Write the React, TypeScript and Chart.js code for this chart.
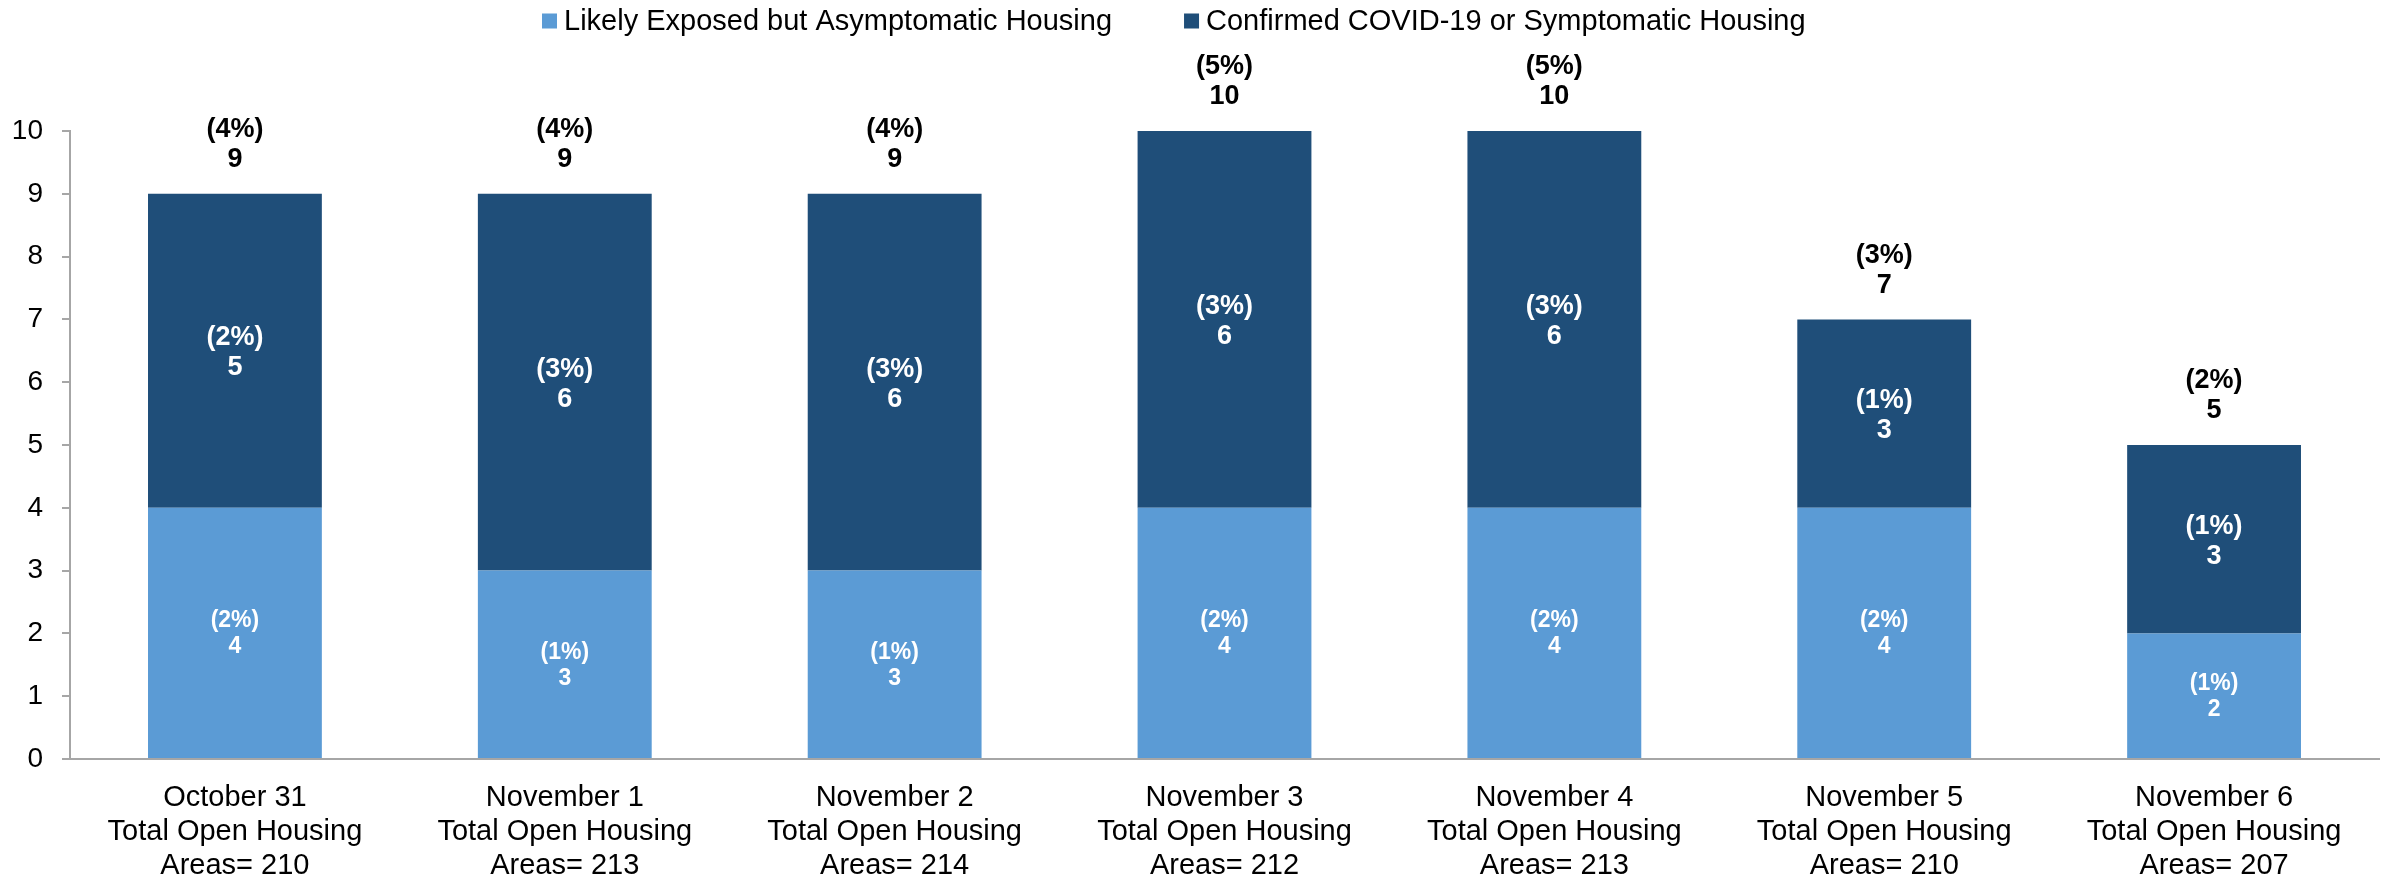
import React, { useEffect, useRef } from "react";
import { Chart, registerables } from "chart.js";

Chart.register(...registerables);

const categories = ["October 31", "November 1", "November 2", "November 3", "November 4", "November 5", "November 6"];
const openAreas = [210, 213, 214, 212, 213, 210, 207];
const exposed = [4, 3, 3, 4, 4, 4, 2];
const exposedPct = ["(2%)", "(1%)", "(1%)", "(2%)", "(2%)", "(2%)", "(1%)"];
const confirmed = [5, 6, 6, 6, 6, 3, 3];
const confirmedPct = ["(2%)", "(3%)", "(3%)", "(3%)", "(3%)", "(1%)", "(1%)"];
const totals = [9, 9, 9, 10, 10, 7, 5];
const totalPct = ["(4%)", "(4%)", "(4%)", "(5%)", "(5%)", "(3%)", "(2%)"];
const yTicks = [0, 1, 2, 3, 4, 5, 6, 7, 8, 9, 10];

const seriesNames = ["Likely Exposed but Asymptomatic Housing", "Confirmed COVID-19 or Symptomatic Housing"];
const LIGHT = "#5B9BD5";
const DARK = "#1F4E79";
const FONT = "'Liberation Sans', Arial, Helvetica, sans-serif";

const labelPlugin = {
  id: "barLabels",
  afterDatasetsDraw(chart: any) {
    const ctx = chart.ctx;
    const yScale = chart.scales.y;
    ctx.save();
    ctx.textAlign = "center";
    ctx.textBaseline = "middle";
    const m0 = chart.getDatasetMeta(0);
    m0.data.forEach((bar: any, i: number) => {
      const p = bar.getProps(["x", "y", "base"], true);
      const mid = (p.y + p.base) / 2;
      ctx.fillStyle = "#ffffff";
      ctx.font = `bold 23px ${FONT}`;
      ctx.fillText(exposedPct[i], p.x, mid - 12);
      ctx.fillText(String(exposed[i]), p.x, mid + 14);
    });
    const m1 = chart.getDatasetMeta(1);
    m1.data.forEach((bar: any, i: number) => {
      const p = bar.getProps(["x", "y", "base"], true);
      const mid = (p.y + p.base) / 2;
      ctx.fillStyle = "#ffffff";
      ctx.font = `bold 27px ${FONT}`;
      ctx.fillText(confirmedPct[i], p.x, mid - 13);
      ctx.fillText(String(confirmed[i]), p.x, mid + 17);
    });
    m0.data.forEach((bar: any, i: number) => {
      const p = bar.getProps(["x"], true);
      const top = yScale.getPixelForValue(totals[i]);
      ctx.fillStyle = "#000000";
      ctx.font = `bold 27px ${FONT}`;
      ctx.fillText(totalPct[i], p.x, top - 64);
      ctx.fillText(String(totals[i]), p.x, top - 34);
    });
    ctx.restore();
  },
};

const legendPlugin = {
  id: "customLegend",
  afterDraw(chart: any) {
    const ctx = chart.ctx;
    ctx.save();
    ctx.font = `29px ${FONT}`;
    ctx.textBaseline = "middle";
    ctx.textAlign = "left";
    const box = 15;
    const gapText = 7;
    const gapItem = 72;
    let x = 542;
    const cy = 21;
    chart.data.datasets.forEach((ds: any) => {
      const w = ctx.measureText(ds.label).width;
      ctx.fillStyle = ds.backgroundColor;
      ctx.fillRect(x, cy - box / 2, box, box);
      x += box + gapText;
      ctx.fillStyle = "#000000";
      ctx.fillText(ds.label, x, cy + 1);
      x += w + gapItem;
    });
    ctx.restore();
  },
};

export default function App() {
  const ref = useRef<HTMLCanvasElement | null>(null);

  useEffect(() => {
    if (!ref.current) return;
    const xLabels = categories.map((c, i) => [c, "Total Open Housing", "Areas= " + openAreas[i]]);
    const chart = new Chart(ref.current, {
      type: "bar",
      data: {
        labels: xLabels as any,
        datasets: [
          { label: seriesNames[0], data: exposed, backgroundColor: LIGHT, borderWidth: 0 },
          { label: seriesNames[1], data: confirmed, backgroundColor: DARK, borderWidth: 0 },
        ],
      },
      options: {
        animation: false,
        responsive: true,
        maintainAspectRatio: false,
        layout: { padding: { top: 131, right: 12, left: 0, bottom: 0 } },
        datasets: { bar: { categoryPercentage: 1, barPercentage: 0.527 } } as any,
        plugins: {
          legend: { display: false },
          tooltip: { enabled: false },
          title: { display: false },
        },
        scales: {
          x: {
            stacked: true,
            grid: { display: false, drawTicks: false },
            border: { display: true, color: "#a6a6a6", width: 2 },
            ticks: {
              color: "#000000",
              font: { family: FONT, size: 29, lineHeight: 1.17 },
              padding: 22,
              maxRotation: 0,
              autoSkip: false,
            },
            afterFit: (s: any) => {
              s.height = 118;
            },
          },
          y: {
            stacked: true,
            min: 0,
            max: 10,
            afterBuildTicks: (s: any) => {
              s.ticks = yTicks.map((v) => ({ value: v }));
            },
            grid: { display: true, drawOnChartArea: false, drawTicks: true, tickLength: 8, color: "#a6a6a6", lineWidth: 2 },
            border: { display: true, color: "#a6a6a6", width: 2 },
            ticks: {
              color: "#000000",
              font: { family: FONT, size: 28 },
              padding: 19,
            },
            afterFit: (s: any) => {
              s.width = 70;
            },
          },
        },
      },
      plugins: [labelPlugin, legendPlugin],
    });
    return () => chart.destroy();
  }, []);

  return (
    <div style={{ position: "fixed", left: 0, top: 0, width: "2391px", height: "877px", background: "#ffffff" }}>
      <canvas ref={ref} />
    </div>
  );
}
